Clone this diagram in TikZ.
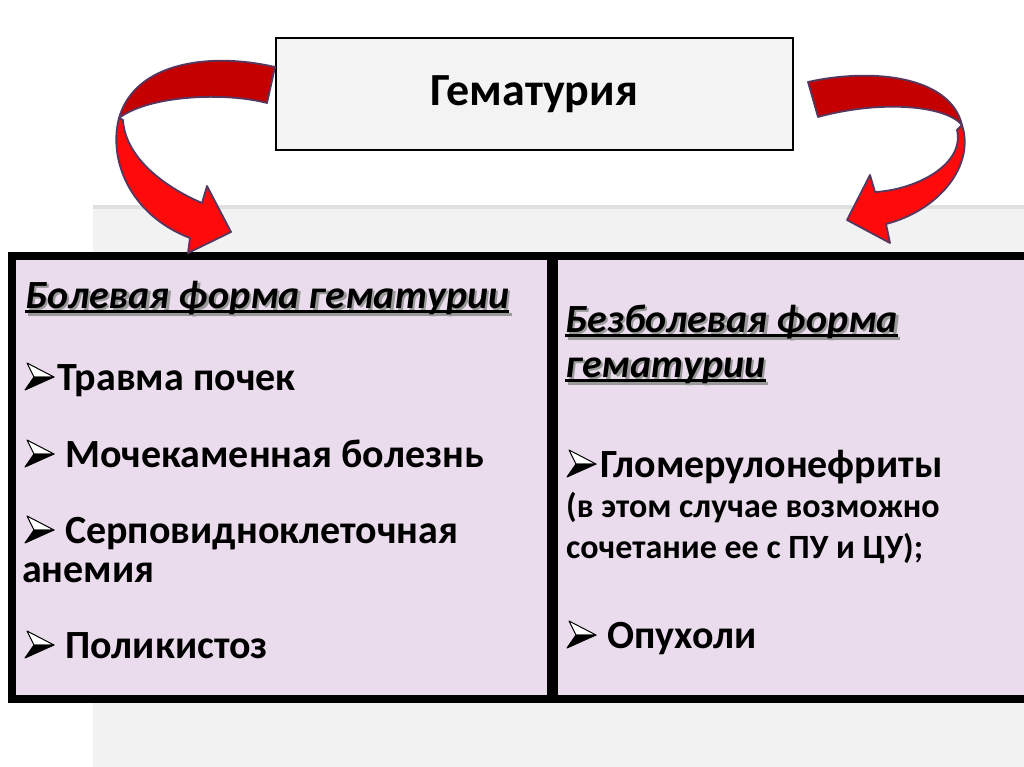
\documentclass[tikz,border=0pt]{standalone}
\usepackage{fontspec}
\setmainfont{Carlito}
\definecolor{boxfill}{RGB}{234,220,236}
\definecolor{darkred}{RGB}{196,0,0}
\definecolor{brightred}{RGB}{255,10,10}
\definecolor{rim}{RGB}{85,55,95}
\definecolor{panel}{RGB}{242,242,242}
\definecolor{topfill}{RGB}{243,243,243}
\newcommand\ulbox[1]{\setbox0\hbox{#1}\rlap{\rule[-5pt]{\wd0}{2.6pt}}\box0}
\newcommand\shtext[1]{\rlap{\raisebox{-2.5pt}{\hspace{2.5pt}\color{black!40}\ulbox{#1}}}\ulbox{#1}}
\tikzset{
  catbox/.style={draw=black, line width=8pt, fill=boxfill},
  topbox/.style={draw=black, line width=2.5pt, fill=topfill, minimum width=517pt, minimum height=112pt, font=\bfseries\fontsize{46}{54}\selectfont},
  item/.style={anchor=base west, inner sep=0pt, font=\bfseries\fontsize{40}{48}\selectfont},
  small/.style={anchor=base west, inner sep=0pt, font=\bfseries\fontsize{34}{40}\selectfont},
  head/.style={anchor=base west, inner sep=0pt, font=\bfseries\itshape\fontsize{40}{46}\selectfont},
  upper/.style={fill=darkred, draw=rim, line width=1.8pt, line join=round},
  lower/.style={fill=brightred, draw=rim, line width=1.8pt, line join=round},
  bullet/.pic={
    \filldraw[fill=white, draw=black, line width=1pt, line join=round] (2,-27) -- (29,-13) -- (9,-13) -- cycle;
    \filldraw[fill=black, draw=black, line width=1pt, line join=round] (9,-13) -- (29,-13) -- (0,0) -- cycle;
  }
}
\begin{document}
\begin{tikzpicture}[x=1pt,y=-1pt]
\useasboundingbox (0,0) rectangle (1024,767);
\fill[white] (0,0) rectangle (1024,767);
% background panel
\fill[panel] (93,205) rectangle (1024,767);
\fill[black!12] (93,205) rectangle (1024,209);

% top box
\node[topbox] (hem) at (534.5,94) {Гематурия};

% category boxes
\draw[catbox] (12,256) rectangle (551,699);
\draw[catbox] (554,256) rectangle (1028,699);

% left ribbon arrow
\draw[upper] (275,67) .. controls (210,52) and (135,62) .. (119,118)
   .. controls (150,95) and (225,92) .. (267,103) -- cycle;
\draw[lower] (119,118) .. controls (108,160) and (130,215) .. (190,238)
   -- (188,253) -- (231,232) -- (207,186) -- (202,203)
   .. controls (160,185) and (125,155) .. (123,120) -- cycle;

% right ribbon arrow
\draw[upper] (808,82) .. controls (870,68) and (950,75) .. (962,125)
   .. controls (945,105) and (880,100) .. (818,117) -- cycle;
\draw[lower] (962,125) .. controls (975,165) and (940,210) .. (886,224)
   -- (890,243) -- (847,220) -- (870,175) -- (875,192)
   .. controls (915,190) and (965,165) .. (957,130) -- cycle;

% left texts
\node[head] (l0) at (25,308) {\shtext{Болевая форма гематурии}};
\pic at (25,390) {bullet};
\node[item] (l1) at (57,390) {Травма почек};
\pic at (25,467) {bullet};
\node[item] (l2) at (65,467) {Мочекаменная болезнь};
\pic at (25,543) {bullet};
\node[item] (l3) at (65,543) {Серповидноклеточная};
\node[item] (l4) at (22,582) {анемия};
\pic at (25,658) {bullet};
\node[item] (l5) at (65,658) {Поликистоз};

% right texts
\node[head] (r0) at (565,332) {\shtext{Безболевая форма}};
\node[head] (r1) at (565,377) {\shtext{гематурии}};
\pic at (567,477) {bullet};
\node[item] (r2) at (600,477) {Гломерулонефриты};
\node[small] (r3) at (566,517) {(в этом случае возможно};
\node[small] (r4) at (566,558) {сочетание ее с ПУ и ЦУ);};
\pic at (567,648) {bullet};
\node[item] (r5) at (607,648) {Опухоли};
\end{tikzpicture}
\end{document}
